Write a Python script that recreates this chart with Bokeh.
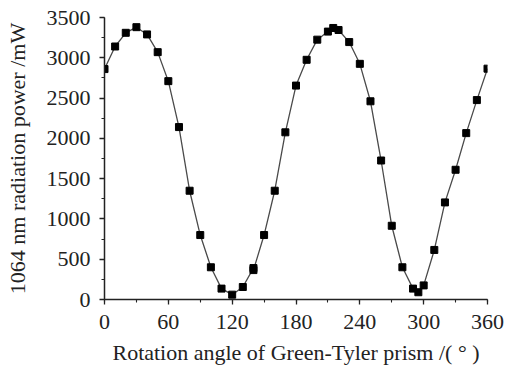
from bokeh.plotting import figure
from bokeh.models import Range1d, FixedTicker
from bokeh.embed import file_html
from bokeh.resources import INLINE

# Data
angle = [0, 10, 20, 30, 40, 50, 60, 70, 80, 90, 100, 110, 120, 130, 140, 140,
         150, 160, 170, 180, 190, 200, 210, 215, 220, 230, 240, 250, 260, 270,
         280, 290, 295, 300, 310, 320, 330, 340, 350, 360]
power = [2860, 3140, 3310, 3380, 3290, 3070, 2710, 2140, 1350, 800, 400, 135,
         60, 155, 390, 365, 800, 1350, 2075, 2655, 2975, 3225, 3325, 3370, 3345,
         3195, 2925, 2460, 1725, 915, 400, 135, 90, 175, 615, 1205, 1610, 2065,
         2475, 2865]
x_ticks = [0, 60, 120, 180, 240, 300, 360]
x_minor = [0, 30, 60, 90, 120, 150, 180, 210, 240, 270, 300, 330, 360]
y_ticks = [0, 500, 1000, 1500, 2000, 2500, 3000, 3500]
y_minor = [0, 250, 500, 750, 1000, 1250, 1500, 1750, 2000, 2250, 2500, 2750,
           3000, 3250, 3500]
x_title = "Rotation angle of Green-Tyler prism /( \u00b0 )"
y_title = "1064 nm radiation power /mW"

FONT = "Liberation Serif"

p = figure(width=505, height=369, output_backend="svg", toolbar_location=None,
           x_range=Range1d(0, 360), y_range=Range1d(0, 3500),
           min_border_left=104, min_border_right=18, min_border_top=17,
           min_border_bottom=70)
p.outline_line_color = None
p.grid.grid_line_color = None
p.background_fill_color = "white"
p.border_fill_color = "white"

p.line(angle, power, line_color="#4a4a4a", line_width=1.3)
p.scatter(angle, power, marker="square", size=7, fill_color="black",
          line_color="black")

for ax in (p.xaxis[0], p.yaxis[0]):
    ax.axis_line_color = "#222222"
    ax.axis_line_width = 1.5
    ax.major_tick_line_color = "#222222"
    ax.minor_tick_line_color = "#222222"
    ax.major_tick_line_width = 1.3
    ax.minor_tick_line_width = 1.1
    ax.major_tick_out = 5
    ax.major_tick_in = 0
    ax.minor_tick_out = 3
    ax.minor_tick_in = 0
    ax.major_label_text_font = FONT
    ax.major_label_text_font_size = "22px"
    ax.major_label_text_color = "#222222"
    ax.axis_label_text_font = FONT
    ax.axis_label_text_font_size = "22px"
    ax.axis_label_text_font_style = "normal"
    ax.axis_label_text_color = "#222222"

p.xaxis[0].ticker = FixedTicker(ticks=x_ticks, minor_ticks=x_minor)
p.yaxis[0].ticker = FixedTicker(ticks=y_ticks, minor_ticks=y_minor)
p.xaxis[0].axis_label = x_title
p.yaxis[0].axis_label = y_title
p.xaxis[0].major_label_standoff = 10
p.yaxis[0].major_label_standoff = 9
p.xaxis[0].axis_label_standoff = 8
p.yaxis[0].axis_label_standoff = 14

open("out.html", "w").write(file_html(p, INLINE))
